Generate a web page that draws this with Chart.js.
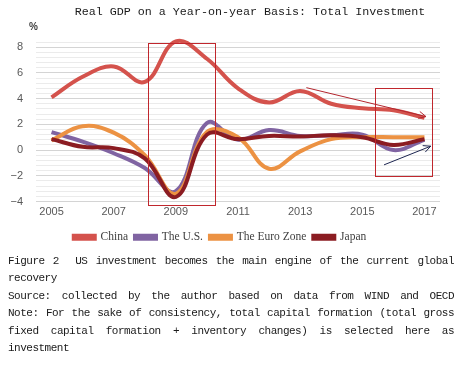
<!DOCTYPE html>
<html>
<head>
<meta charset="utf-8">
<script src="https://cdn.jsdelivr.net/npm/chart.js@4/dist/chart.umd.min.js"></script>
<style>
  body { margin: 0; background: #fff; }
  #wrap { position: relative; width: 471px; height: 367px; overflow: hidden; }
  #title { position: absolute; left: 0; width: 500px; top: 5px; text-align: center;
    font: 11.7px "Liberation Mono", monospace; color: #1a1a1a; }
  #pct { position: absolute; left: 29px; top: 21px; font: bold 10px "Liberation Sans", sans-serif; color: #404040; }
  #box { position: absolute; left: 0; top: 0; width: 471px; height: 255px; }
  #caption { position: absolute; left: 8px; top: 253px; width: 446px;
    font: 11px "Liberation Mono", monospace; letter-spacing: -0.5px; color: #1a1a1a; }
  #caption div { height: 17.4px; line-height: 17.4px; white-space: normal; }
  #caption .j { text-align: justify; text-align-last: justify; }
</style>
</head>
<body>
<div id="wrap">
  <div id="box"><canvas id="chart"></canvas></div>
  <div id="title">Real GDP on a Year-on-year Basis: Total Investment</div>
  <div id="pct">%</div>
  <div id="caption">
    <div class="j">Figure 2&nbsp; US investment becomes the main engine of the current global</div>
    <div>recovery</div>
    <div class="j">Source: collected by the author based on data from WIND and OECD</div>
    <div class="j">Note: For the sake of consistency, total capital formation (total gross</div>
    <div class="j">fixed capital formation + inventory changes) is selected here as</div>
    <div>investment</div>
  </div>
</div>
<script>
const years = ['2005', '2006', '2007', '2008', '2009', '2010', '2011', '2012', '2013', '2014', '2015', '2016', '2017'];
const china = [4.1, 5.7, 6.5, 5.3, 8.45, 7.1, 4.8, 3.7, 4.6, 3.6, 3.25, 3.1, 2.5];
const us = [1.4, 0.65, -0.25, -1.4, -3.2, 2.1, 0.8, 1.55, 1.1, 1.15, 1.2, 0.0, 0.8];
const euro = [0.75, 1.85, 1.35, -0.4, -3.4, 1.4, 1.0, -1.45, -0.1, 0.85, 1.0, 1.0, 1.0];
const japan = [0.85, 0.25, 0.15, -0.65, -3.65, 1.2, 0.85, 1.1, 1.05, 1.15, 1.0, 0.4, 0.85];

// highlight boxes and arrows drawn on top, in data units (year, %)
const boxes = [
  { from: 2008.1, to: 2010.25, top: 8.35, bottom: -4.3 },
  { from: 2015.4, to: 2017.25, top: 4.85, bottom: -2.0 },
];
const arrows = [
  { x0: 2013.2, y0: 4.85, x1: 2017.05, y1: 2.6, color: '#b3262e' },
  { x0: 2015.7, y0: -1.15, x1: 2017.2, y1: 0.3, color: '#1c2550' },
];

const isMajor = (v) => Math.abs(v / 2 - Math.round(v / 2)) < 1e-6;

const markup = {
  id: 'markup',
  afterDatasetsDraw(chart) {
    const { ctx, scales: { x, y } } = chart;
    const px = (yr) => x.getPixelForValue(yr - 2005);
    ctx.save();
    ctx.lineWidth = 1;
    ctx.strokeStyle = '#c0272d';
    boxes.forEach((b) => {
      const l = Math.round(px(b.from)) + 0.5, r = Math.round(px(b.to)) + 0.5;
      const t = Math.round(y.getPixelForValue(b.top)) + 0.5, bt = Math.round(y.getPixelForValue(b.bottom)) + 0.5;
      ctx.strokeRect(l, t, r - l, bt - t);
    });
    arrows.forEach((a) => {
      const sx = px(a.x0), sy = y.getPixelForValue(a.y0);
      const ex = px(a.x1), ey = y.getPixelForValue(a.y1);
      const ang = Math.atan2(ey - sy, ex - sx);
      ctx.strokeStyle = a.color;
      ctx.beginPath();
      ctx.moveTo(sx, sy);
      ctx.lineTo(ex, ey);
      ctx.moveTo(ex - 8 * Math.cos(ang - 0.45), ey - 8 * Math.sin(ang - 0.45));
      ctx.lineTo(ex, ey);
      ctx.lineTo(ex - 8 * Math.cos(ang + 0.45), ey - 8 * Math.sin(ang + 0.45));
      ctx.stroke();
    });
    ctx.restore();
  }
};

const line = (label, data, color, order) => ({
  label, data, order,
  borderColor: color,
  backgroundColor: color,
  borderWidth: 4,
  pointRadius: 0,
  tension: 0.4,
  fill: false,
  clip: 8,
});

new Chart(document.getElementById('chart'), {
  type: 'line',
  data: {
    labels: years,
    datasets: [
      line('China', china, '#d4524c', 3),
      line('The U.S.', us, '#8064a2', 2),
      line('The Euro Zone', euro, '#ec9243', 1),
      line('Japan', japan, '#8b1c22', 0),
    ],
  },
  options: {
    responsive: true,
    maintainAspectRatio: false,
    animation: false,
    layout: { padding: { top: 42, right: 31, left: 0, bottom: 2 } },
    plugins: {
      title: { display: false },
      tooltip: { enabled: false },
      legend: {
        position: 'bottom',
        labels: {
          boxWidth: 21,
          boxHeight: 3,
          padding: 7,
          color: '#404040',
          font: { family: 'Liberation Serif', size: 11.5 },
          sort: (a, b) => a.datasetIndex - b.datasetIndex,
        },
      },
    },
    scales: {
      x: {
        offset: true,
        grid: { display: false, drawTicks: false },
        border: { display: false },
        afterFit: (s) => { s.height = 23; },
        ticks: {
          autoSkip: false,
          maxRotation: 0,
          padding: 4,
          color: '#595959',
          font: { family: 'Liberation Sans', size: 11 },
          callback: (v, i) => (i % 2 === 0 ? years[i] : ''),
        },
      },
      y: {
        min: -4,
        max: 8.4,
        afterFit: (s) => { s.width = 36; },
        border: { display: false },
        grid: {
          drawTicks: false,
          lineWidth: 1,
          color: (c) => (isMajor(c.tick.value) ? '#d4d4d4' : '#ebebeb'),
        },
        ticks: {
          stepSize: 0.4,
          maxTicksLimit: 100,
          autoSkip: false,
          padding: 13,
          color: '#595959',
          font: { family: 'Liberation Sans', size: 11 },
          callback: (v) => (isMajor(v) ? (v < 0 ? '\u2212' + Math.abs(Math.round(v)) : String(Math.round(v))) : ''),
        },
      },
    },
  },
  plugins: [markup],
});
</script>
</body>
</html>
